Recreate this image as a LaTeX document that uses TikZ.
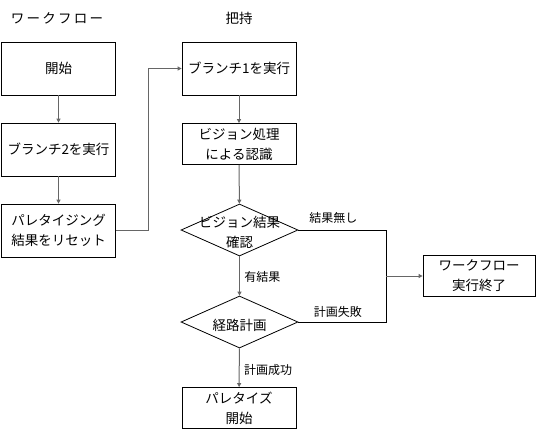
\documentclass[tikz,border=0pt]{standalone}
\usepackage{fontspec}
\newfontfamily\jp{Noto Sans CJK JP}
\usetikzlibrary{shapes.geometric,arrows.meta}
\begin{document}
\begin{tikzpicture}[x=1pt,y=-1pt,
  every node/.style={font=\jp\fontsize{13.5}{20}\selectfont},
  box/.style={draw,line width=0.8pt,minimum width=114pt,inner sep=0pt,align=center},
  dia/.style={draw,line width=0.8pt,diamond,minimum width=117pt,minimum height=52pt,inner sep=0pt,aspect=2.25},
  dtext/.style={align=center,inner sep=0pt},
  flow/.style={draw=black!60,line width=1pt,-{Triangle[length=4pt,width=4pt]}},
  side/.style={draw,line width=0.8pt},
  lbl/.style={font=\jp\fontsize{12}{14}\selectfont}]
\useasboundingbox (0,0) rectangle (537,429);
\node at (57,18) (t1) {ワ\,ー\,ク\,フ\,ロ\,ー};
\node at (239,18) (t2) {把持};
\node[box,minimum height=53pt] (start) at (58.5,68.5) {開始};
\node[box,minimum height=53pt] (br2) at (58.5,149.5) {ブランチ2を実行};
\node[box,minimum height=53pt] (reset) at (58.5,230.5) {パレタイジング\\結果をリセット};
\node[box,minimum height=53pt] (br1) at (239,68.5) {ブランチ1を実行};
\node[box,minimum height=41pt] (vis) at (239,144) {ビジョン処理\\による認識};
\node[dia] (chk) at (239.5,230) {};
\node[dtext] (chkt) at (239.5,232) {ビジョン結果\\確認};
\node[dia] (path) at (239.5,322) {};
\node[dtext] (patht) at (239.5,325) {経路計画};
\node[box,minimum height=41pt,minimum width=112pt] (end) at (479,276) {ワークフロー\\実行終了};
\node[box,minimum height=41pt] (pal) at (239,408) {パレタイズ\\開始};
\coordinate (m) at (386,276);
\path[flow] (start) -- (br2);
\path[flow] (br2) -- (reset);
\path[flow] (reset.east) -- (148,230.5) |- (br1.west);
\path[flow] (br1) -- (vis);
\path[flow] (vis) -- (chk);
\path[flow] (chk) -- node[lbl,right,xshift=1pt,yshift=-1pt]{有結果} (path);
\path[flow] (path) -- node[lbl,right,xshift=1pt,yshift=-2pt]{計画成功} (pal);
\draw[side] (chk.east) -- node[lbl,above,yshift=3pt,pos=0.4]{結果無し} (386,230) -- (m);
\draw[side] (path.east) -- node[lbl,above,yshift=1pt,pos=0.45]{計画失敗} (386,322) -- (m);
\path[flow] (m) -- (end.west);
\end{tikzpicture}
\end{document}
